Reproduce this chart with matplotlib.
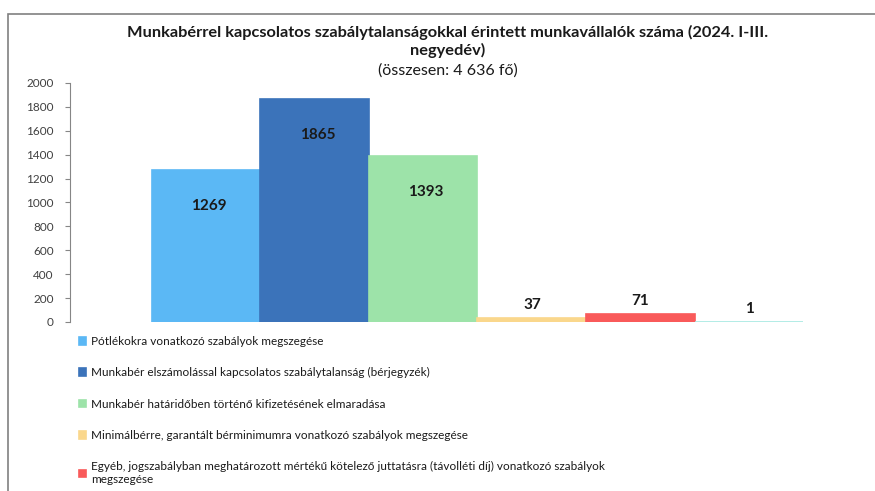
import matplotlib.pyplot as plt
from matplotlib.patches import Rectangle

plt.rcParams['font.family'] = ['Lato', 'DejaVu Sans']

# Data
categories = [
    'Pótlékokra vonatkozó szabályok megszegése',
    'Munkabér elszámolással kapcsolatos szabálytalanság (bérjegyzék)',
    'Munkabér határidőben történő kifizetésének elmaradása',
    'Minimálbérre, garantált bérminimumra vonatkozó szabályok megszegése',
    'Egyéb, jogszabályban meghatározott mértékű kötelező juttatásra (távolléti díj) vonatkozó szabályok\nmegszegése',
]
values = [1269, 1865, 1393, 37, 71, 1]
colors = ['#5bb8f5', '#3b73ba', '#9de3a9', '#fad78c', '#f95a5a', '#a6e9e2']

W, H = 875, 491
fig = plt.figure(figsize=(W / 100, H / 100), dpi=100)

# axes placed in pixel terms (plot area runs past the right edge, as in the crop)
ax = fig.add_axes([70 / W, (H - 322) / H, (885 - 70) / W, (322 - 83) / H])

bars = ax.bar(range(len(values)), values, width=1.0, color=colors,
              edgecolor=colors, linewidth=1.2)

ax.set_xlim(-1.25, 6.25)
ax.set_ylim(0, 2000)
ax.set_yticks(range(0, 2001, 200))
ax.tick_params(axis='y', labelsize=8.5, colors='#868686', labelcolor='#404040',
               length=3.6, width=0.8, pad=8)
ax.set_xticks([])
for s in ['top', 'right', 'bottom']:
    ax.spines[s].set_visible(False)
ax.spines['left'].set_color('#868686')
ax.spines['left'].set_linewidth(0.8)

# value labels
for b, v in zip(bars, values):
    if v > 500:
        ax.annotate(str(v), (b.get_x() + b.get_width() / 2, v), xytext=(3, -36),
                    textcoords='offset pixels', ha='center', va='center',
                    fontsize=11, fontweight='bold', color='#1a1a1a')
    else:
        ax.annotate(str(v), (b.get_x() + b.get_width() / 2, v), xytext=(0, 13),
                    textcoords='offset pixels', ha='center', va='center',
                    fontsize=11, fontweight='bold', color='#1a1a1a')

# title
fig.text(448 / W, 1 - 32 / H, 'Munkabérrel kapcsolatos szabálytalanságokkal érintett munkavállalók száma (2024. I-III.',
         ha='center', va='center', fontsize=11.8, fontweight='bold', color='#1a1a1a')
fig.text(448 / W, 1 - 50 / H, 'negyedév)', ha='center', va='center',
         fontsize=11.8, fontweight='bold', color='#1a1a1a')
fig.text(448 / W, 1 - 71 / H, '(összesen: 4 636 fő)', ha='center', va='center',
         fontsize=11.5, color='#1a1a1a')

# legend
fig.legend(bars[:5], categories, loc='upper left',
           bbox_to_anchor=(79 / W, 1 - 336 / H), frameon=False,
           fontsize=8.5, handlelength=0.6, handleheight=0.6, handletextpad=0.4,
           labelspacing=1.72, borderaxespad=0, borderpad=0, labelcolor='#1a1a1a')

# chart frame
fig.add_artist(Rectangle((8 / W, -0.1), 1.2, (H - 14) / H + 0.1,
                         transform=fig.transFigure, fill=False,
                         edgecolor='#808080', linewidth=1.2))

fig.savefig('out.png', dpi=100)
